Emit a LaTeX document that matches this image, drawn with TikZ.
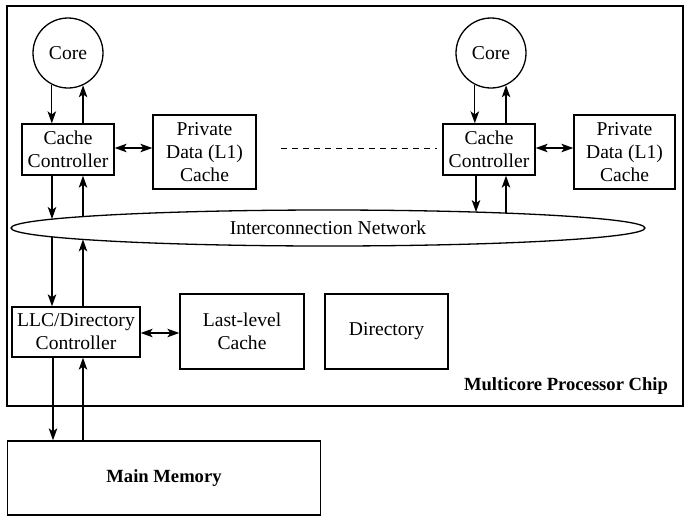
\documentclass[tikz,border=0pt]{standalone}
\usepackage{fontspec}
\setmainfont{Liberation Serif}
\usetikzlibrary{arrows.meta,shapes.geometric}
\begin{document}
\begin{tikzpicture}[x=1pt,y=-1pt,
  line width=1.3pt,
  every node/.style={font=\fontsize{19.6}{23}\selectfont, align=center, inner sep=0pt},
  box/.style={draw, rectangle},
  corec/.style={draw, circle, minimum size=70pt},
  arr/.style={-{Stealth[length=12pt,width=8.5pt,inset=3pt]}},
  darr/.style={{Stealth[length=12pt,width=8.5pt,inset=3pt]}-{Stealth[length=12pt,width=8.5pt,inset=3pt]}},
  boldlbl/.style={font=\fontsize{18.6}{23}\selectfont\bfseries}
]
\useasboundingbox (0,0) rectangle (693,523);
% chip
\node[box, minimum width=676pt, minimum height=400pt] (chip) at (345,206) {};
\node[boldlbl] (chiplbl) at (566,386) {Multicore Processor Chip};
% cores
\node[corec] (core1) at (68,53) {Core};
\node[corec] (core2) at (491,53) {Core};
% cache controllers
\node[box, minimum width=92pt, minimum height=51pt] (cc1) at (68,149.5) {Cache\\Controller};
\node[box, minimum width=92pt, minimum height=51pt] (cc2) at (489,149.5) {Cache\\Controller};
% private caches
\node[box, minimum width=103pt, minimum height=74pt] (pd1) at (204.5,152) {Private\\Data (L1)\\Cache};
\node[box, minimum width=101pt, minimum height=74pt] (pd2) at (624.5,152) {Private\\Data (L1)\\Cache};
% network
\node[draw, ellipse, minimum width=634pt, minimum height=36pt] (net) at (328,228) {Interconnection Network};
% LLC
\node[box, minimum width=128pt, minimum height=50pt] (llc) at (76,332) {LLC/Directory\\Controller};
\node[box, minimum width=124pt, minimum height=75pt] (lllc) at (242,331.5) {Last-level\\Cache};
\node[box, minimum width=123pt, minimum height=75pt] (dir) at (386.5,331.5) {Directory};
% memory
\node[box, minimum width=313pt, minimum height=74pt, boldlbl] (mem) at (164,478) {Main Memory};
% coordinates on network boundary
\coordinate (n1t) at (52,219);
\coordinate (n1b) at (52,237);
\coordinate (n2t) at (83,216.6);
\coordinate (n2b) at (83,239.4);
\coordinate (n3t) at (476,212.1);
\coordinate (n4t) at (506,213.1);
\coordinate (d1) at (281,148);
\coordinate (d2) at (437,148);
% core <-> cache controller
\draw[arr] (core1.243) -- (core1.243 |- cc1.north);
\draw[arr] (core1.295 |- cc1.north) -- (core1.295);
\draw[arr] (core2.243) -- (core2.243 |- cc2.north);
\draw[arr] (core2.295 |- cc2.north) -- (core2.295);
% cc <-> private
\draw[darr] (cc1.east |- 0,148) -- (pd1.west |- 0,148);
\draw[darr] (cc2.east |- 0,148) -- (pd2.west |- 0,148);
% dashed
\draw[dashed, dash pattern=on 6pt off 5pt, line width=1pt] (d1) -- (d2);
% cc <-> network
\draw[arr] (n1t |- cc1.south) -- (n1t);
\draw[arr] (n2t) -- (n2t |- cc1.south);
\draw[arr] (n3t |- cc2.south) -- (n3t);
\draw[arr] (n4t) -- (n4t |- cc2.south);
% network <-> llc
\draw[arr] (n1b) -- (n1b |- llc.north);
\draw[arr] (n2b |- llc.north) -- (n2b);
% llc <-> last level cache
\draw[darr] (llc.east |- 0,333) -- (lllc.west |- 0,333);
% llc <-> memory
\draw[arr] (53,0 |- llc.south) -- (53,0 |- mem.north);
\draw[arr] (83,0 |- mem.north) -- (83,0 |- llc.south);
\end{tikzpicture}
\end{document}
